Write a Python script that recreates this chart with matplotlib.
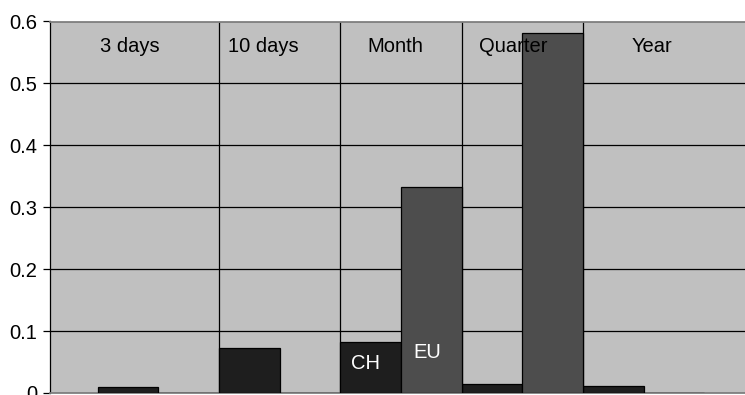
import matplotlib
matplotlib.use("Agg")
import matplotlib.pyplot as plt
import numpy as np

categories = ["3 days", "10 days", "Month", "Quarter", "Year"]
ch_values = [0.010, 0.073, 0.082, 0.015, 0.012]
eu_values = [0.0, 0.0, 0.333, 0.581, 0.0]
series_names = ["CH", "EU"]
y_ticks = [0, 0.1, 0.2, 0.3, 0.4, 0.5, 0.6]
y_tick_labels = ["0", "0.1", "0.2", "0.3", "0.4", "0.5", "0.6"]

plt.rcParams['font.family'] = ['Liberation Sans', 'DejaVu Sans']
FS = 14.5

fig = plt.figure(figsize=(7.45, 3.95), dpi=100)
ax = fig.add_axes([50 / 745, 2 / 395, 1 - 50 / 745, (393 - 21.5) / 395])
ax.set_facecolor("#c0c0c0")

x = np.arange(len(categories))
w = 0.5
ax.bar(x, ch_values, width=w, align="edge", color="#1e1e1e",
       edgecolor="black", linewidth=0.9, zorder=3)
ax.bar(x + w, eu_values, width=w, align="edge", color="#4d4d4d",
       edgecolor="black", linewidth=0.9, zorder=3)

ax.set_ylim(0, 0.6)
ax.set_xlim(-0.393, 5.336)
ax.set_yticks(y_ticks)
ax.set_yticklabels(y_tick_labels, fontsize=FS)
ax.tick_params(axis="y", length=5, width=0.9, pad=4, color="black")

ax.set_xticks(np.arange(1, len(categories)))
ax.set_xticklabels([])
ax.tick_params(axis="x", length=0)

ax.grid(True, axis="both", color="black", linewidth=0.9, zorder=1)
ax.set_axisbelow(True)

for s in ["top", "bottom"]:
    ax.spines[s].set_color("#808080")
    ax.spines[s].set_linewidth(1.3)
ax.spines["right"].set_visible(False)
ax.spines["left"].set_color("black")
ax.spines["left"].set_linewidth(0.9)

label_x = [0.266, 1.363, 2.45, 3.424, 4.57]
for lx, name in zip(label_x, categories):
    ax.text(lx, 0.56, name, ha="center", va="center", fontsize=FS, color="black", zorder=5)

ax.text(2.21, 0.048, series_names[0], ha="center", va="center", fontsize=FS, color="white", zorder=5)
ax.text(2.715, 0.0656, series_names[1], ha="center", va="center", fontsize=FS, color="white", zorder=5)

fig.savefig("out.png", dpi=100)
